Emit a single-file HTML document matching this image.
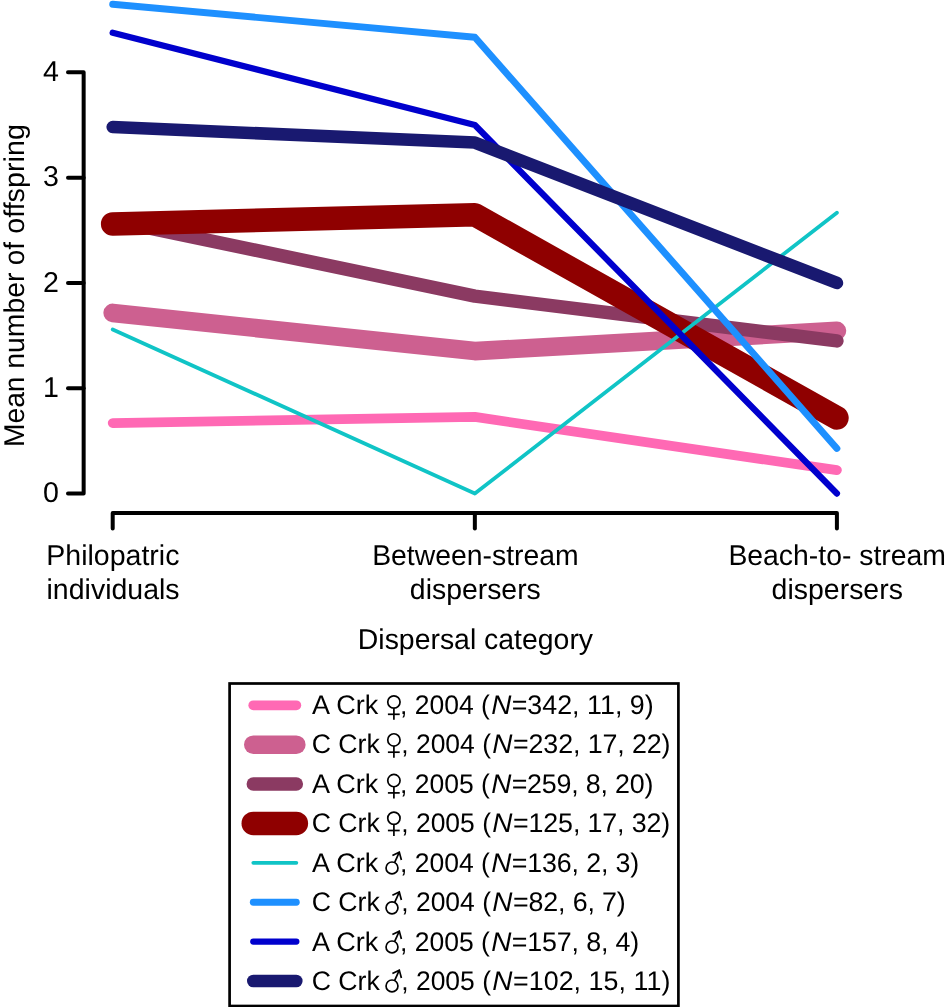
<!DOCTYPE html>
<html><head><meta charset="utf-8"><style>
html,body{margin:0;padding:0;background:#fff;width:946px;height:1007px;overflow:hidden}
svg{display:block;will-change:transform}
text{font-family:"Liberation Sans",sans-serif;fill:#000;font-kerning:normal;text-rendering:geometricPrecision}
</style></head><body>
<svg width="946" height="1007" viewBox="0 0 946 1007">
<rect x="0" y="0" width="946" height="1007" fill="#fff"/>
<g stroke="#000" stroke-width="4" fill="none" stroke-linecap="round" stroke-linejoin="round">
<polyline points="68,72.35 83.65,72.35 83.65,493.55 68,493.55"/>
<line x1="68" y1="388.25" x2="83.65" y2="388.25"/>
<line x1="68" y1="282.95" x2="83.65" y2="282.95"/>
<line x1="68" y1="177.65" x2="83.65" y2="177.65"/>
<polyline points="112.7,528.6 112.7,513.1 836.9,513.1 836.9,528.6"/>
<line x1="474.85" y1="513.1" x2="474.85" y2="528.6"/>
</g>
<text id="yt0" x="58.90" y="502.25" font-size="28.6" text-anchor="end">0</text>
<text id="yt1" x="58.90" y="396.95" font-size="28.6" text-anchor="end">1</text>
<text id="yt2" x="58.90" y="291.65" font-size="28.6" text-anchor="end">2</text>
<text id="yt3" x="58.90" y="186.35" font-size="28.6" text-anchor="end">3</text>
<text id="yt4" x="58.90" y="81.05" font-size="28.6" text-anchor="end">4</text>
<text id="yw0" transform="translate(24.05,447.05) rotate(-90)" x="0" y="0" font-size="28.6" textLength="70.59" lengthAdjust="spacingAndGlyphs">Mean</text>
<text id="yw1" transform="translate(24.05,368.73) rotate(-90)" x="0" y="0" font-size="28.6" textLength="96.23" lengthAdjust="spacingAndGlyphs">number</text>
<text id="yw2" transform="translate(24.05,265.23) rotate(-90)" x="0" y="0" font-size="28.6" textLength="23.07" lengthAdjust="spacingAndGlyphs">of</text>
<text id="yw3" transform="translate(24.05,233.82) rotate(-90)" x="0" y="0" font-size="28.6" textLength="109.73" lengthAdjust="spacingAndGlyphs">offspring</text>
<text id="xl0a" x="46.27" y="564.80" font-size="28.6" textLength="133.21" lengthAdjust="spacingAndGlyphs" text-anchor="start">Philopatric</text>
<text id="xl0b" x="46.54" y="598.70" font-size="28.6" textLength="133.05" lengthAdjust="spacingAndGlyphs" text-anchor="start">individuals</text>
<text id="xl1a" x="372.16" y="564.80" font-size="28.6" textLength="206.48" lengthAdjust="spacingAndGlyphs" text-anchor="start">Between-stream</text>
<text id="xl1b" x="409.85" y="598.70" font-size="28.6" textLength="130.96" lengthAdjust="spacingAndGlyphs" text-anchor="start">dispersers</text>
<text id="xl2a" x="728.39" y="564.80" font-size="28.6" textLength="217.63" lengthAdjust="spacingAndGlyphs" text-anchor="start">Beach-to- stream</text>
<text id="xl2b" x="771.61" y="598.70" font-size="28.6" textLength="131.30" lengthAdjust="spacingAndGlyphs" text-anchor="start">dispersers</text>
<text id="xlab" x="357.82" y="649.10" font-size="28.6" textLength="235.27" lengthAdjust="spacingAndGlyphs" text-anchor="start">Dispersal category</text>
<text id="lg0a" x="312.12" y="713.60" font-size="26.8" textLength="66.02" lengthAdjust="spacingAndGlyphs" text-anchor="start">A Crk</text>
<text id="lg0b" x="399.98" y="713.60" font-size="26.8" textLength="89.91" lengthAdjust="spacingAndGlyphs" text-anchor="start">, 2004 (</text>
<text id="lg0n" x="491.22" y="713.60" font-size="26.8" font-style="italic" textLength="20.16" lengthAdjust="spacingAndGlyphs" text-anchor="start">N</text>
<text id="lg0c" x="511.63" y="713.60" font-size="26.8" textLength="142.05" lengthAdjust="spacing" text-anchor="start">=342, 11, 9)</text>
<text id="lg1a" x="311.64" y="753.10" font-size="26.8" textLength="68.16" lengthAdjust="spacingAndGlyphs" text-anchor="start">C Crk</text>
<text id="lg1b" x="401.23" y="753.10" font-size="26.8" textLength="89.76" lengthAdjust="spacingAndGlyphs" text-anchor="start">, 2004 (</text>
<text id="lg1n" x="492.26" y="753.10" font-size="26.8" font-style="italic" textLength="20.18" lengthAdjust="spacingAndGlyphs" text-anchor="start">N</text>
<text id="lg1c" x="513.02" y="753.10" font-size="26.8" textLength="157.41" lengthAdjust="spacing" text-anchor="start">=232, 17, 22)</text>
<text id="lg2a" x="312.12" y="792.60" font-size="26.8" textLength="66.02" lengthAdjust="spacingAndGlyphs" text-anchor="start">A Crk</text>
<text id="lg2b" x="399.98" y="792.60" font-size="26.8" textLength="89.91" lengthAdjust="spacingAndGlyphs" text-anchor="start">, 2005 (</text>
<text id="lg2n" x="491.22" y="792.60" font-size="26.8" font-style="italic" textLength="20.16" lengthAdjust="spacingAndGlyphs" text-anchor="start">N</text>
<text id="lg2c" x="511.63" y="792.60" font-size="26.8" textLength="141.73" lengthAdjust="spacing" text-anchor="start">=259, 8, 20)</text>
<text id="lg3a" x="311.64" y="832.10" font-size="26.8" textLength="68.16" lengthAdjust="spacingAndGlyphs" text-anchor="start">C Crk</text>
<text id="lg3b" x="401.23" y="832.10" font-size="26.8" textLength="89.76" lengthAdjust="spacingAndGlyphs" text-anchor="start">, 2005 (</text>
<text id="lg3n" x="492.26" y="832.10" font-size="26.8" font-style="italic" textLength="20.18" lengthAdjust="spacingAndGlyphs" text-anchor="start">N</text>
<text id="lg3c" x="513.02" y="832.10" font-size="26.8" textLength="157.26" lengthAdjust="spacing" text-anchor="start">=125, 17, 32)</text>
<text id="lg4a" x="312.12" y="871.60" font-size="26.8" textLength="66.02" lengthAdjust="spacingAndGlyphs" text-anchor="start">A Crk</text>
<text id="lg4b" x="399.98" y="871.60" font-size="26.8" textLength="89.91" lengthAdjust="spacingAndGlyphs" text-anchor="start">, 2004 (</text>
<text id="lg4n" x="491.22" y="871.60" font-size="26.8" font-style="italic" textLength="20.16" lengthAdjust="spacingAndGlyphs" text-anchor="start">N</text>
<text id="lg4c" x="511.63" y="871.60" font-size="26.8" textLength="127.68" lengthAdjust="spacing" text-anchor="start">=136, 2, 3)</text>
<text id="lg5a" x="311.64" y="911.10" font-size="26.8" textLength="68.16" lengthAdjust="spacingAndGlyphs" text-anchor="start">C Crk</text>
<text id="lg5b" x="401.23" y="911.10" font-size="26.8" textLength="89.76" lengthAdjust="spacingAndGlyphs" text-anchor="start">, 2004 (</text>
<text id="lg5n" x="492.26" y="911.10" font-size="26.8" font-style="italic" textLength="20.18" lengthAdjust="spacingAndGlyphs" text-anchor="start">N</text>
<text id="lg5c" x="513.02" y="911.10" font-size="26.8" textLength="112.73" lengthAdjust="spacing" text-anchor="start">=82, 6, 7)</text>
<text id="lg6a" x="312.12" y="950.60" font-size="26.8" textLength="66.02" lengthAdjust="spacingAndGlyphs" text-anchor="start">A Crk</text>
<text id="lg6b" x="399.98" y="950.60" font-size="26.8" textLength="89.91" lengthAdjust="spacingAndGlyphs" text-anchor="start">, 2005 (</text>
<text id="lg6n" x="491.22" y="950.60" font-size="26.8" font-style="italic" textLength="20.16" lengthAdjust="spacingAndGlyphs" text-anchor="start">N</text>
<text id="lg6c" x="511.63" y="950.60" font-size="26.8" textLength="127.68" lengthAdjust="spacing" text-anchor="start">=157, 8, 4)</text>
<text id="lg7a" x="311.64" y="990.10" font-size="26.8" textLength="68.16" lengthAdjust="spacingAndGlyphs" text-anchor="start">C Crk</text>
<text id="lg7b" x="401.23" y="990.10" font-size="26.8" textLength="89.76" lengthAdjust="spacingAndGlyphs" text-anchor="start">, 2005 (</text>
<text id="lg7n" x="492.26" y="990.10" font-size="26.8" font-style="italic" textLength="20.18" lengthAdjust="spacingAndGlyphs" text-anchor="start">N</text>
<text id="lg7c" x="513.02" y="990.10" font-size="26.8" textLength="157.37" lengthAdjust="spacing" text-anchor="start">=102, 15, 11)</text>
<g fill="none" stroke-linecap="round" stroke-linejoin="round">
<polyline points="112.70,423.04 474.85,416.97 836.90,470.15" stroke="#FF69B4" stroke-width="9.8"/>
<polyline points="112.70,312.91 474.85,351.09 836.90,330.81" stroke="#CD6090" stroke-width="18.6"/>
<polyline points="112.70,220.34 474.85,296.11 836.90,340.87" stroke="#8B3A62" stroke-width="13.5"/>
<polyline points="112.70,223.98 474.85,214.81 836.90,417.87" stroke="#8F0000" stroke-width="23.6"/>
<polyline points="112.70,329.41 474.85,493.55 836.90,212.75" stroke="#10C4C6" stroke-width="3.8"/>
<polyline points="112.70,4.29 474.85,37.25 836.90,448.42" stroke="#1E90FF" stroke-width="6.9"/>
<polyline points="112.70,32.78 474.85,125.00 836.90,493.55" stroke="#0000CD" stroke-width="6.3"/>
<polyline points="112.70,127.06 474.85,142.55 836.90,282.95" stroke="#191970" stroke-width="12.6"/>
</g>
<rect x="229.6" y="683.5" width="448.8" height="322.5" fill="none" stroke="#000" stroke-width="2.7"/>
<line x1="253.3" y1="705.30" x2="296.3" y2="705.30" stroke="#FF69B4" stroke-width="9.8" stroke-linecap="round"/>
<g stroke="#000" stroke-width="1.7" fill="none"><circle cx="393.9" cy="702.00" r="6.15"/><line x1="393.9" y1="708.15" x2="393.9" y2="719.80"/><line x1="387.9" y1="714.30" x2="399.7" y2="714.30"/></g>
<line x1="253.3" y1="744.68" x2="296.3" y2="744.68" stroke="#CD6090" stroke-width="18.6" stroke-linecap="round"/>
<g stroke="#000" stroke-width="1.7" fill="none"><circle cx="393.9" cy="739.90" r="6.15"/><line x1="393.9" y1="746.05" x2="393.9" y2="757.70"/><line x1="387.9" y1="752.20" x2="399.7" y2="752.20"/></g>
<line x1="253.3" y1="784.06" x2="296.3" y2="784.06" stroke="#8B3A62" stroke-width="13.5" stroke-linecap="round"/>
<g stroke="#000" stroke-width="1.7" fill="none"><circle cx="393.9" cy="780.60" r="6.15"/><line x1="393.9" y1="786.75" x2="393.9" y2="798.40"/><line x1="387.9" y1="792.90" x2="399.7" y2="792.90"/></g>
<line x1="253.3" y1="823.44" x2="296.3" y2="823.44" stroke="#8F0000" stroke-width="23.6" stroke-linecap="round"/>
<g stroke="#000" stroke-width="1.7" fill="none"><circle cx="393.9" cy="818.20" r="6.15"/><line x1="393.9" y1="824.35" x2="393.9" y2="836.00"/><line x1="387.9" y1="830.50" x2="399.7" y2="830.50"/></g>
<line x1="253.3" y1="862.82" x2="296.3" y2="862.82" stroke="#10C4C6" stroke-width="3.8" stroke-linecap="round"/>
<g stroke="#000" stroke-width="1.7" fill="none"><circle cx="392.0" cy="867.95" r="5.95"/><line x1="394.6" y1="862.65" x2="399.3" y2="852.15"/><polyline points="392.4,855.45 399.3,852.15 401.4,860.05" stroke-linejoin="miter"/></g>
<line x1="253.3" y1="902.20" x2="296.3" y2="902.20" stroke="#1E90FF" stroke-width="6.9" stroke-linecap="round"/>
<g stroke="#000" stroke-width="1.7" fill="none"><circle cx="392.0" cy="907.85" r="5.95"/><line x1="394.6" y1="902.55" x2="399.3" y2="892.05"/><polyline points="392.4,895.35 399.3,892.05 401.4,899.95" stroke-linejoin="miter"/></g>
<line x1="253.3" y1="941.58" x2="296.3" y2="941.58" stroke="#0000CD" stroke-width="6.3" stroke-linecap="round"/>
<g stroke="#000" stroke-width="1.7" fill="none"><circle cx="392.0" cy="946.95" r="5.95"/><line x1="394.6" y1="941.65" x2="399.3" y2="931.15"/><polyline points="392.4,934.45 399.3,931.15 401.4,939.05" stroke-linejoin="miter"/></g>
<line x1="253.3" y1="980.96" x2="296.3" y2="980.96" stroke="#191970" stroke-width="12.6" stroke-linecap="round"/>
<g stroke="#000" stroke-width="1.7" fill="none"><circle cx="392.0" cy="985.95" r="5.95"/><line x1="394.6" y1="980.65" x2="399.3" y2="970.15"/><polyline points="392.4,973.45 399.3,970.15 401.4,978.05" stroke-linejoin="miter"/></g>
</svg>
</body></html>
